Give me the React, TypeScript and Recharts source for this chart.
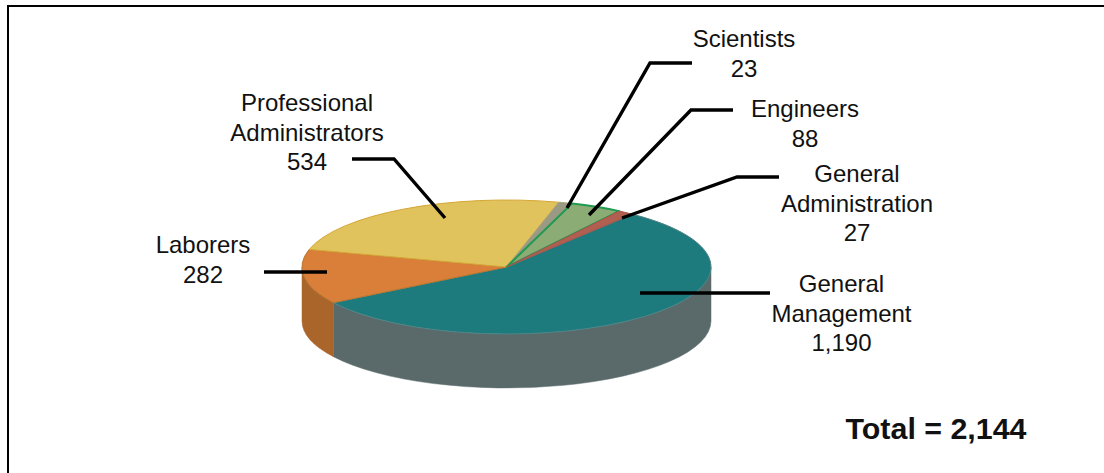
import { PieChart, Pie } from 'recharts';

const categories = ['General Management', 'Laborers', 'Professional Administrators', 'Scientists', 'Engineers', 'General Administration'];
const headcounts = [1190, 282, 534, 23, 88, 27];
const topColors = ['#1d7a7d', '#d97f3a', '#e0c35c', '#9a9a84', '#8cac76', '#b05f50'];
const edgeColors = ['#4f8486', '#b9772f', '#d6a636', '#a8a27a', '#1f9a50', '#a8564a'];
const wallColors = ['#5a6a6b', '#aa652a', '#a8914a', '#77776a', '#6a8058', '#84473c'];
const totalLabel = 'Total = 2,144';

const data = categories.map((name, i) => ({ name, value: headcounts[i], fill: topColors[i], stroke: edgeColors[i], wall: wallColors[i] }));

// where each text block and leader line sits
const labelLayout = [
  { x: 841.5, y: 292, line: [[770, 293], [640, 293]] },
  { x: 203, y: 253, line: [[264, 272], [327, 272]] },
  { x: 307, y: 111, line: [[352, 159], [394, 159], [445, 218]] },
  { x: 744, y: 47, line: [[692, 63], [650, 63], [567, 208]] },
  { x: 805, y: 117, line: [[733, 110], [691, 110], [589, 215]] },
  { x: 857, y: 182, line: [[779, 177], [737, 177], [622, 218]] },
];

const FONT = '"Liberation Sans", Arial, sans-serif';
const TILT = 67 / 204.5;
const DEPTH = 54;
const RAD = Math.PI / 180;

const pt = (p: any, a: number, dy = 0) =>
  `${p.cx + p.outerRadius * Math.cos(a * RAD)} ${p.cy - p.outerRadius * TILT * Math.sin(a * RAD) + dy}`;

// flat pie sector squashed into an ellipse
const TopSector = (p: any) => {
  const rx = p.outerRadius;
  const ry = rx * TILT;
  const large = Math.abs(p.startAngle - p.endAngle) > 180 ? 1 : 0;
  const d = `M ${p.cx} ${p.cy} L ${pt(p, p.startAngle)} A ${rx} ${ry} 0 ${large} 1 ${pt(p, p.endAngle)} Z`;
  return <path d={d} fill={p.fill} stroke={p.stroke} strokeWidth={p.index === 4 ? 2 : 1} strokeLinejoin="round" />;
};

// outer wall, only the part that faces the viewer
const WallSector = (p: any) => {
  const from = Math.min(p.startAngle, 0);
  const to = Math.max(p.endAngle, -180);
  if (from <= to) return <g />;
  const rx = p.outerRadius;
  const ry = rx * TILT;
  const d = `M ${pt(p, from)} A ${rx} ${ry} 0 0 1 ${pt(p, to)} L ${pt(p, to, DEPTH)} A ${rx} ${ry} 0 0 0 ${pt(p, from, DEPTH)} Z`;
  return <path d={d} fill={p.wall} stroke={p.wall} strokeWidth={0.5} />;
};

const renderLabel = (p: any) => {
  const spot = labelLayout[p.index];
  const lines = [...p.name.split(' '), p.value.toLocaleString('en-US')];
  return (
    <g key={p.name}>
      <polyline points={spot.line.map((c) => c.join(',')).join(' ')} fill="none" stroke="#000" strokeWidth={3.4} />
      <text x={spot.x} y={spot.y} textAnchor="middle" fontFamily={FONT} fontSize={24} fill="#111">
        {lines.map((t: string, i: number) => (
          <tspan key={t} x={spot.x} y={spot.y + i * 29.7}>{t}</tspan>
        ))}
      </text>
    </g>
  );
};

export default function App() {
  return (
    <div style={{ position: 'absolute', left: 0, top: 0, width: 1104, height: 473, background: '#fff', overflow: 'hidden' }}>
      <div style={{ position: 'absolute', left: 7, top: 5, right: 0, bottom: 0, borderTop: '2px solid #000', borderLeft: '2px solid #000' }} />
      <div style={{ position: 'absolute', left: 0, top: 0 }}>
        <PieChart width={1104} height={473} margin={{ top: 0, right: 0, bottom: 0, left: 0 }}>
          <Pie data={data} dataKey="value" nameKey="name" cx={506.5} cy={267} innerRadius={0} outerRadius={204.5}
            startAngle={52} endAngle={-308} shape={WallSector} inactiveShape={WallSector} labelLine={false} isAnimationActive={false} />
          <Pie data={data} dataKey="value" nameKey="name" cx={506.5} cy={267} innerRadius={0} outerRadius={204.5}
            startAngle={52} endAngle={-308} shape={TopSector} inactiveShape={TopSector} label={renderLabel} labelLine={false} isAnimationActive={false} />
          <text x={845.5} y={439} fontFamily={FONT} fontSize={30.4} fontWeight="bold" fill="#111">{totalLabel}</text>
        </PieChart>
      </div>
    </div>
  );
}
